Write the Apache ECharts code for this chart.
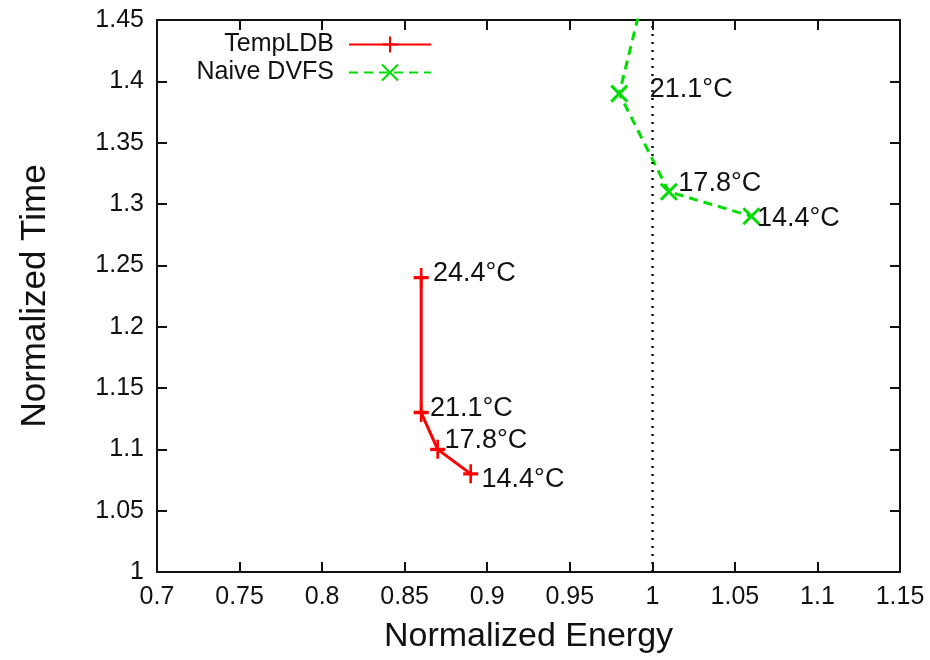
<!DOCTYPE html>
<html>
<head>
<meta charset="utf-8">
<script src="https://cdn.jsdelivr.net/npm/echarts@6/dist/echarts.min.js"></script>
<style>html,body{margin:0;padding:0;background:#fff}#c{width:930px;height:660px}</style>
</head>
<body>
<div id="c"></div>
<script>
// ---- data ----
const xTicks = [0.7, 0.75, 0.8, 0.85, 0.9, 0.95, 1, 1.05, 1.1, 1.15];
const yTicks = [1, 1.05, 1.1, 1.15, 1.2, 1.25, 1.3, 1.35, 1.4, 1.45];
const tempLDBEnergy = [0.86, 0.86, 0.87, 0.89];
const tempLDBTime   = [1.24, 1.13, 1.10, 1.08];
const tempLDBTemps  = ['24.4°C', '21.1°C', '17.8°C', '14.4°C'];
const naiveEnergy = [1.00, 0.98, 1.01, 1.06];
const naiveTime   = [1.50, 1.39, 1.31, 1.29];
const naiveTemps  = ['24.4°C', '21.1°C', '17.8°C', '14.4°C'];
const refEnergy = 1;

// ---- label nudges (style only) ----
const ldbNudge = [[-3, -4], [-6, -4], [-8, -9], [-4, 6]];
const naiveNudge = [null, [15, -4], [-6, -8], [-10, 2]];

const FONT = '"Liberation Sans", Arial, Helvetica, sans-serif';
const TXT = '#111';
const plusPath = 'path://M0,10L20,10M10,0L10,20';
const crossPath = 'path://M0,0L20,20M20,0L0,20';

function build(xs, ys, temps, nudges) {
  return xs.map((x, i) => ({
    value: [x, ys[i]],
    label: nudges[i] ? {
      show: true, formatter: temps[i], position: 'right', distance: 6,
      offset: nudges[i], color: TXT, fontSize: 27, fontFamily: FONT
    } : { show: false }
  }));
}

const chart = echarts.init(document.getElementById('c'));
const axisLine = { show: true, onZero: false, lineStyle: { color: '#111', width: 2 } };
const axisTick = { show: true, inside: true, length: 10, lineStyle: { color: '#111', width: 2 } };
const tickFmt = list => v => { const t = list.find(k => Math.abs(k - v) < 1e-6); return t === undefined ? '' : String(t); };
chart.setOption({
  backgroundColor: '#fff',
  animation: false,
  textStyle: { fontFamily: FONT },
  grid: { left: 157, right: 30, top: 20, bottom: 88, containLabel: false },
  legend: [
    { data: ['TempLDB'], right: 498, top: 32, padding: 0, align: 'right', itemWidth: 82, itemHeight: 20,
      textStyle: { fontSize: 25, color: TXT, fontFamily: FONT, padding: [0, 10, 0, 0] } },
    { data: ['Naive DVFS'], right: 498, top: 60, padding: 0, align: 'right', itemWidth: 82, itemHeight: 20,
      textStyle: { fontSize: 25, color: TXT, fontFamily: FONT, padding: [0, 10, 0, 0] } }
  ],
  xAxis: [
    { type: 'value', min: 0.7, max: 1.15, interval: 0.05, position: 'bottom',
      name: 'Normalized Energy', nameLocation: 'middle', nameGap: 48,
      nameTextStyle: { fontSize: 34, color: TXT, fontFamily: FONT },
      axisLine, axisTick, splitLine: { show: false },
      axisLabel: { fontSize: 25, color: TXT, margin: 13, fontFamily: FONT, formatter: tickFmt(xTicks) } },
    { type: 'value', min: 0.7, max: 1.15, interval: 0.05, position: 'top',
      axisLine, axisTick, splitLine: { show: false }, axisLabel: { show: false } }
  ],
  yAxis: [
    { type: 'value', min: 1, max: 1.45, interval: 0.05, position: 'left',
      name: 'Normalized Time', nameLocation: 'middle', nameGap: 104,
      nameTextStyle: { fontSize: 35, color: TXT, fontFamily: FONT },
      axisLine, axisTick, splitLine: { show: false },
      axisLabel: { fontSize: 25, color: TXT, margin: 13, fontFamily: FONT, formatter: tickFmt(yTicks) } },
    { type: 'value', min: 1, max: 1.45, interval: 0.05, position: 'right',
      axisLine, axisTick, splitLine: { show: false }, axisLabel: { show: false } }
  ],
  series: [
    { name: 'TempLDB', type: 'line', data: build(tempLDBEnergy, tempLDBTime, tempLDBTemps, ldbNudge),
      symbol: plusPath, symbolSize: [15, 19], clip: true,
      lineStyle: { color: '#ff0000', width: 3 },
      itemStyle: { color: '#ff0000', borderColor: '#ff0000', borderWidth: 3 },
      markLine: { silent: true, symbol: 'none', label: { show: false },
        lineStyle: { color: '#111', type: [2, 6], width: 2.5 },
        data: [{ xAxis: refEnergy }] } },
    { name: 'Naive DVFS', type: 'line', data: build(naiveEnergy, naiveTime, naiveTemps, naiveNudge),
      symbol: crossPath, symbolSize: 16, clip: true,
      lineStyle: { color: '#00dd00', width: 3, type: [9, 6] },
      itemStyle: { color: '#00dd00', borderColor: '#00dd00', borderWidth: 3 } }
  ]
});
</script>
</body>
</html>
